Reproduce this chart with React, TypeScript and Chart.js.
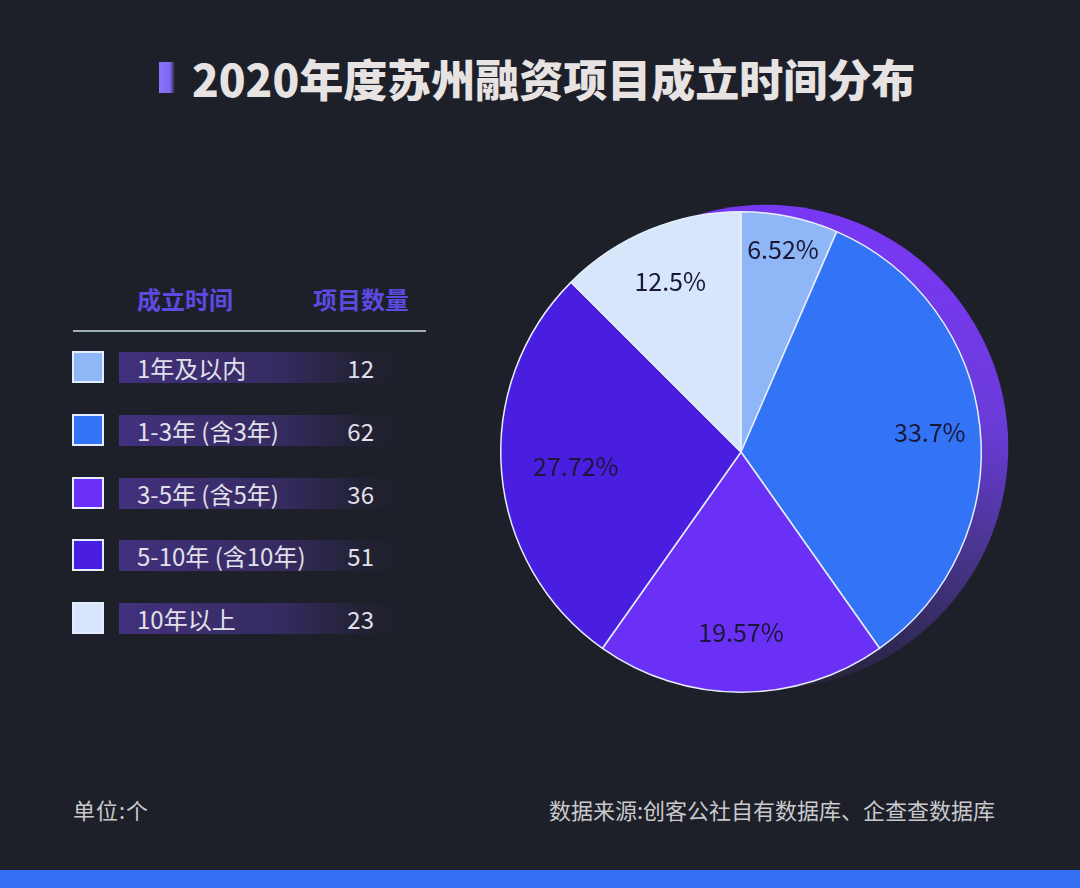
import React, { useEffect, useRef } from "react";
import { Chart, registerables } from "chart.js";

Chart.register(...registerables);

const TITLE = "2020年度苏州融资项目成立时间分布";
const CATEGORIES = ["1年及以内", "1-3年 (含3年)", "3-5年 (含5年)", "5-10年 (含10年)", "10年以上"];
const VALUES = [12, 62, 36, 51, 23];
const PERCENT_LABELS = ["6.52%", "33.7%", "19.57%", "27.72%", "12.5%"];
const HEADERS = ["成立时间", "项目数量"];
const UNIT_NOTE = "单位:个";
const SOURCE_NOTE = "数据来源:创客公社自有数据库、企查查数据库";

const COLORS = ["#8fb6f6", "#3374f6", "#6b30f6", "#4a1ee0", "#d7e6fb"];
const LABEL_RADIUS = [0.86, 0.79, 0.75, 0.69, 0.77];
const BG = "#1e2029";
const FONT = "'Noto Sans CJK SC', 'Noto Sans', sans-serif";

const shadowPlugin = {
  id: "pieShadow",
  beforeDatasetsDraw(chart: any) {
    const arc = chart.getDatasetMeta(0).data[0];
    if (!arc) return;
    const { x, y, outerRadius } = arc.getProps(["x", "y", "outerRadius"], true);
    const ctx = chart.ctx;
    const cx = x + 25;
    const cy = y - 5;
    const r = outerRadius + 2;
    const g = ctx.createLinearGradient(cx + r * 0.3, cy - r, cx - r * 0.2, cy + r);
    g.addColorStop(0, "#7a38f6");
    g.addColorStop(0.35, "#6a3bd8");
    g.addColorStop(0.6, "#4a3590");
    g.addColorStop(0.85, "#2e2850");
    g.addColorStop(1, "#23222f");
    ctx.save();
    ctx.beginPath();
    ctx.arc(cx, cy, r, 0, Math.PI * 2);
    ctx.fillStyle = g;
    ctx.fill();
    ctx.restore();
  },
};

const labelPlugin = {
  id: "pieLabels",
  afterDatasetsDraw(chart: any) {
    const meta = chart.getDatasetMeta(0);
    const ctx = chart.ctx;
    ctx.save();
    ctx.font = `400 25px ${FONT}`;
    ctx.fillStyle = "#1a1838";
    ctx.textAlign = "center";
    ctx.textBaseline = "middle";
    meta.data.forEach((arc: any, i: number) => {
      const { x, y, startAngle, endAngle, outerRadius } = arc.getProps(
        ["x", "y", "startAngle", "endAngle", "outerRadius"],
        true
      );
      const mid = (startAngle + endAngle) / 2;
      const rr = outerRadius * LABEL_RADIUS[i];
      ctx.fillText(PERCENT_LABELS[i], x + Math.cos(mid) * rr, y + Math.sin(mid) * rr);
    });
    ctx.restore();
  },
};

function PieChart() {
  const ref = useRef<HTMLCanvasElement | null>(null);
  useEffect(() => {
    if (!ref.current) return;
    const chart = new Chart(ref.current, {
      type: "pie",
      data: {
        labels: CATEGORIES,
        datasets: [
          {
            data: VALUES,
            backgroundColor: COLORS,
            borderColor: "#e6eefc",
            borderWidth: 1.5,
          },
        ],
      },
      options: {
        animation: false,
        responsive: true,
        maintainAspectRatio: false,
        layout: { padding: 39 },
        plugins: {
          legend: { display: false },
          tooltip: { enabled: false },
        },
      },
      plugins: [shadowPlugin, labelPlugin],
    });
    return () => chart.destroy();
  }, []);
  return (
    <div style={{ position: "absolute", left: 461, top: 172, width: 560, height: 560 }}>
      <canvas ref={ref} />
    </div>
  );
}

export default function App() {
  const rowTop = 351;
  const rowGap = 62.8;
  return (
    <div
      style={{
        position: "absolute",
        left: 0,
        top: 0,
        width: 1080,
        height: 888,
        background: BG,
        overflow: "hidden",
        fontFamily: FONT,
      }}
    >
      {/* title */}
      <div
        style={{
          position: "absolute",
          left: 159,
          top: 62,
          width: 16,
          height: 31,
          background: "linear-gradient(to right, #8c72fa 0%, #7f66f0 70%, rgba(110,90,220,0) 100%)",
        }}
      />
      <div
        style={{
          position: "absolute",
          left: 192,
          top: 49,
          height: 58,
          lineHeight: "58px",
          fontSize: 44,
          fontWeight: 900,
          color: "#e7e3e3",
          whiteSpace: "nowrap",
        }}
      >
        {TITLE}
      </div>

      {/* table header */}
      <div
        style={{
          position: "absolute",
          left: 137,
          top: 284,
          lineHeight: "30px",
          fontSize: 24,
          fontWeight: 700,
          color: "#5b4be0",
          whiteSpace: "nowrap",
        }}
      >
        {HEADERS[0]}
      </div>
      <div
        style={{
          position: "absolute",
          left: 313,
          top: 284,
          lineHeight: "30px",
          fontSize: 24,
          fontWeight: 700,
          color: "#5b4be0",
          whiteSpace: "nowrap",
        }}
      >
        {HEADERS[1]}
      </div>
      <div
        style={{
          position: "absolute",
          left: 73,
          top: 330,
          width: 353,
          height: 2,
          background: "#9fb1b0",
        }}
      />

      {CATEGORIES.map((c, i) => {
        const top = rowTop + i * rowGap;
        return (
          <React.Fragment key={c}>
            <div
              style={{
                position: "absolute",
                left: 72,
                top,
                width: 28,
                height: 28,
                background: COLORS[i],
                border: "2px solid #e4ecff",
              }}
            />
            <div
              style={{
                position: "absolute",
                left: 119,
                top: top + 1,
                width: 290,
                height: 31,
                background:
                  "linear-gradient(to right, rgba(72,52,140,0.85) 0%, rgba(64,48,120,0.7) 55%, rgba(40,36,70,0.3) 85%, rgba(30,32,41,0) 100%)",
              }}
            />
            <div
              style={{
                position: "absolute",
                left: 137,
                top: top + 1,
                lineHeight: "31px",
                fontSize: 24,
                color: "#e2e0ea",
                whiteSpace: "nowrap",
              }}
            >
              {c}
            </div>
            <div
              style={{
                position: "absolute",
                left: 300,
                width: 74,
                textAlign: "right",
                top: top + 1,
                lineHeight: "31px",
                fontSize: 24,
                color: "#e2e0ea",
              }}
            >
              {VALUES[i]}
            </div>
          </React.Fragment>
        );
      })}

      <PieChart />

      {/* footer */}
      <div
        style={{
          position: "absolute",
          left: 73,
          top: 795,
          lineHeight: "28px",
          fontSize: 22,
          color: "#c9c9cc",
          whiteSpace: "nowrap",
          letterSpacing: 1,
        }}
      >
        {UNIT_NOTE}
      </div>
      <div
        style={{
          position: "absolute",
          right: 85,
          top: 795,
          lineHeight: "28px",
          fontSize: 22,
          color: "#c9c9cc",
          whiteSpace: "nowrap",
        }}
      >
        {SOURCE_NOTE}
      </div>
      <div
        style={{
          position: "absolute",
          left: 0,
          top: 870,
          width: 1080,
          height: 18,
          background: "#3470f4",
        }}
      />
    </div>
  );
}
